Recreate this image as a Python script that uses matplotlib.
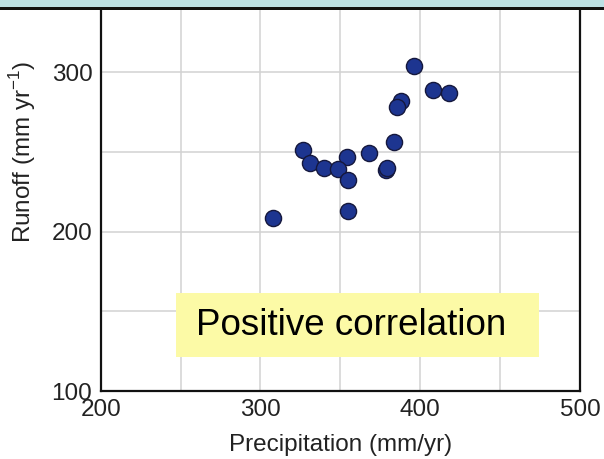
import matplotlib
matplotlib.use("Agg")
import matplotlib.pyplot as plt
from matplotlib.patches import Rectangle
from matplotlib.ticker import MultipleLocator

plt.rcParams.update(
    {
        "font.family": ["Liberation Sans", "DejaVu Sans"],
        "font.size": 17,
    }
)

# Data
precip = [396.4, 408.3, 417.9, 388.1, 385.6, 383.3, 367.9, 354.1, 326.6,
          330.8, 339.6, 348.5, 354.8, 378.8, 379.4, 354.8, 307.9]
runoff = [304.0, 288.9, 287.2, 282.0, 278.4, 256.1, 249.2, 247.0, 251.2,
          242.9, 239.7, 239.1, 232.4, 238.7, 240.1, 212.9, 208.7]

x_ticks = [200, 300, 400, 500]
y_ticks = [100, 200, 300]

W, H = 604, 459
fig = plt.figure(figsize=(W / 100, H / 100), dpi=100)
ax = fig.add_axes([100.7 / W, (H - 391) / H, (580 - 100.7) / W, (391 - 9) / H])

ax.scatter(precip, runoff, s=135, facecolor="#1d3590", edgecolor="#15183d",
           linewidth=1.0, zorder=3)

ymin, ymax = 100, 339.7
ax.set_xlim(200, 500)
ax.set_ylim(ymin, ymax)
ax.set_xticks(x_ticks)
ax.set_yticks(y_ticks)
ax.xaxis.set_minor_locator(MultipleLocator(50))
ax.yaxis.set_minor_locator(MultipleLocator(50))
ax.grid(True, which="both", color="#d2d2d2", lw=1.1, zorder=0)
ax.tick_params(which="both", length=0, labelsize=17.5, colors="#222222")
ax.tick_params(axis="x", pad=6)
ax.tick_params(axis="y", pad=6)

ax.spines["top"].set_visible(False)
for s in ["left", "right", "bottom"]:
    ax.spines[s].set_linewidth(1.6)
    ax.spines[s].set_color("#111111")

ax.set_xlabel("Precipitation (mm/yr)", fontsize=17.5, color="#222222", labelpad=9)
ax.set_ylabel(r"Runoff (mm yr$^{\mathregular{-1}}$)", fontsize=17.5,
              color="#222222")
# original axis ran higher than the crop; label sits around y=250
ax.yaxis.set_label_coords(-0.131, (250 - ymin) / (ymax - ymin))

# yellow caption box
fig.patches.append(Rectangle((176 / W, 1 - 357.3 / H), (539.3 - 176) / W,
                             (357.3 - 293.3) / H, transform=fig.transFigure,
                             facecolor="#fcfaa6", edgecolor="none", zorder=5))
fig.text(196 / W, 1 - 325.5 / H, "Positive correlation", fontsize=26.5,
         ha="left", va="center", zorder=6)

# top band
fig.patches.append(Rectangle((0, 1 - 7.5 / H), 1, 7.5 / H, transform=fig.transFigure,
                             facecolor="#bce0e4", edgecolor="none", zorder=5))
fig.patches.append(Rectangle((0, 1 - 10 / H), 1, 2.6 / H, transform=fig.transFigure,
                             facecolor="#111111", edgecolor="none", zorder=5))

fig.savefig("out.png", dpi=100)
